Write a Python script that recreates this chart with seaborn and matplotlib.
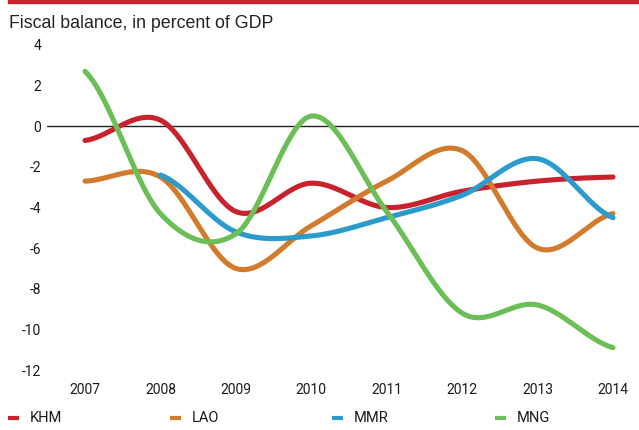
import numpy as np
import pandas as pd
import matplotlib
matplotlib.use("Agg")
import matplotlib.pyplot as plt
from matplotlib.lines import Line2D
from matplotlib.patches import Rectangle
import seaborn as sns

years = [2007, 2008, 2009, 2010, 2011, 2012, 2013, 2014]
khm = [-0.7, 0.3, -4.2, -2.8, -4.0, -3.2, -2.7, -2.5]
lao = [-2.7, -2.5, -7.0, -4.9, -2.7, -1.2, -6.0, -4.3]
mmr = [np.nan, -2.4, -5.2, -5.4, -4.5, -3.4, -1.6, -4.5]
mng = [2.7, -4.3, -5.3, 0.5, -4.2, -9.2, -8.8, -10.9]
series_names = ["KHM", "LAO", "MMR", "MNG"]
colors = ["#C8232C", "#D27B2C", "#2A9BCB", "#6CBF57"]
yticks = [4, 2, 0, -2, -4, -6, -8, -10, -12]
title = "Fiscal balance, in percent of GDP"

sns.set_theme(style="white")
plt.rcParams["font.family"] = ["Roboto", "Liberation Sans", "DejaVu Sans"]


def smooth(xs, ys, n=40):
    xs = np.asarray(xs, float)
    ys = np.asarray(ys, float)
    ok = ~np.isnan(ys)
    xs, ys = xs[ok], ys[ok]
    k = len(ys)
    m = np.zeros(k)
    for i in range(k):
        a = ys[max(i - 1, 0)]
        b = ys[min(i + 1, k - 1)]
        m[i] = (b - a) / 2.0
    out_x, out_y = [], []
    for i in range(k - 1):
        t = np.linspace(0, 1, n, endpoint=(i == k - 2))
        h00 = 2 * t**3 - 3 * t**2 + 1
        h10 = t**3 - 2 * t**2 + t
        h01 = -2 * t**3 + 3 * t**2
        h11 = t**3 - t**2
        out_y.append(h00 * ys[i] + h10 * m[i] + h01 * ys[i + 1] + h11 * m[i + 1])
        out_x.append(xs[i] + t * (xs[i + 1] - xs[i]))
    return np.concatenate(out_x), np.concatenate(out_y)


W, H = 639, 430
fig = plt.figure(figsize=(W / 100, H / 100), dpi=100)
ax_left, ax_right = 47, 639
ax_top, ax_bottom = 45, 370
ax = fig.add_axes([ax_left / W, 1 - ax_bottom / H, (ax_right - ax_left) / W, (ax_bottom - ax_top) / H])

x0 = 2007 - (85 - 47) / 75.4
x1 = 2014 + (639 - 613) / 75.4
ax.set_xlim(x0, x1)
ax.set_ylim(-12, 4)

ax.axhline(0, color="#222222", lw=1.0, zorder=1)

for name, vals, c in zip(series_names, [khm, lao, mmr, mng], colors):
    sx, sy = smooth(years, vals)
    df = pd.DataFrame({"x": sx, "y": sy})
    sns.lineplot(data=df, x="x", y="y", ax=ax, color=c, lw=3.7, sort=False,
                 solid_capstyle="round", zorder=3, clip_on=False)

ax.set_xticks(years)
ax.set_xticklabels([str(y) for y in years])
ax.set_yticks(yticks)
ax.set_yticklabels([str(v) for v in yticks])
ax.tick_params(axis="x", length=0, pad=9, labelsize=10, colors="#1a1a1a")
ax.tick_params(axis="y", length=0, pad=4, labelsize=10, colors="#1a1a1a")
ax.set_xlabel("")
ax.set_ylabel("")
for s in ax.spines.values():
    s.set_visible(False)
ax.grid(False)

# top red band
fig.patches.append(Rectangle((8 / W, 1 - 3 / H), (W - 8) / W, 3 / H,
                             transform=fig.transFigure, color="#C8232C", zorder=5))

fig.text(9 / W, 1 - 23 / H, title, fontsize=12.8, va="center", ha="left",
         color="#222222", family=["Liberation Sans", "DejaVu Sans"])

# legend
lx = [8, 170, 332, 495]
ly = 418
for x, name, c in zip(lx, series_names, colors):
    fig.add_artist(Line2D([(x) / W, (x + 11) / W], [1 - ly / H, 1 - ly / H],
                          transform=fig.transFigure, color=c, lw=3,
                          solid_capstyle="butt"))
    fig.text((x + 22) / W, 1 - ly / H, name, fontsize=10.5, va="center", ha="left",
             color="#1a1a1a")

fig.savefig("out.png", dpi=100)
